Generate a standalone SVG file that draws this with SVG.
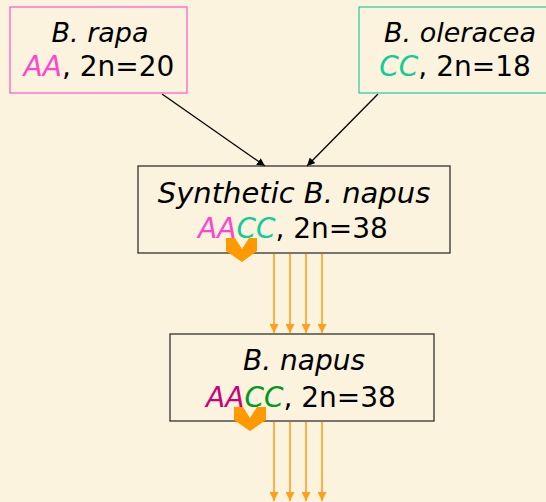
<svg xmlns="http://www.w3.org/2000/svg" width="546" height="502" viewBox="0 0 546 502">
  <defs>
    <style>
      .box { fill: none; stroke-width: 1.2; }
      .name { font-family: "DejaVu Sans", "Noto Sans", sans-serif; font-style: italic; font-size: 27px; fill: #000; text-anchor: middle; }
      .geno { font-family: "DejaVu Sans", "Noto Sans", sans-serif; font-size: 28px; fill: #000; text-anchor: middle; }
      .link { stroke: #000; stroke-width: 1.3; fill: none; }
      .flow { stroke: #FF9F1A; stroke-width: 1.6; fill: none; }
      .chev { fill: #FF9900; }
    </style>
    <marker id="blackHead" viewBox="0 0 10 10" refX="10" refY="5" markerWidth="8" markerHeight="8" markerUnits="userSpaceOnUse" orient="auto">
      <path d="M0,0 L10,5 L0,10 z" fill="#000"/>
    </marker>
    <marker id="orangeHead" viewBox="0 0 10 10" refX="10" refY="5" markerWidth="9" markerHeight="9" markerUnits="userSpaceOnUse" orient="auto">
      <path d="M0,0 L10,5 L0,10 z" fill="#FF9F1A"/>
    </marker>
    <filter id="parchment" x="0" y="0" width="100%" height="100%">
      <feTurbulence type="fractalNoise" baseFrequency="0.035" numOctaves="3" seed="7" result="n"/>
      <feColorMatrix in="n" type="matrix" values="0 0 0 0 0.95  0 0 0 0 0.89  0 0 0 0 0.74  0 0 0 0.3 0" result="tint"/>
      <feComposite in="tint" in2="SourceGraphic" operator="over"/>
    </filter>
  </defs>

  <!-- paper background -->
  <rect x="0" y="0" width="546" height="502" fill="#FCF3DE"/>
  <rect x="0" y="0" width="546" height="502" fill="#FCF3DE" filter="url(#parchment)" opacity="0.5"/>

  <!-- connectors -->
  <g id="connectors">
    <line class="link" x1="162" y1="94" x2="265" y2="166" marker-end="url(#blackHead)"/>
    <line class="link" x1="378" y1="94" x2="307" y2="166" marker-end="url(#blackHead)"/>

    <line class="flow" x1="274" y1="254" x2="274" y2="333" marker-end="url(#orangeHead)"/>
    <line class="flow" x1="290" y1="254" x2="290" y2="333" marker-end="url(#orangeHead)"/>
    <line class="flow" x1="306" y1="254" x2="306" y2="333" marker-end="url(#orangeHead)"/>
    <line class="flow" x1="322" y1="254" x2="322" y2="333" marker-end="url(#orangeHead)"/>

    <line class="flow" x1="274" y1="422" x2="274" y2="501" marker-end="url(#orangeHead)"/>
    <line class="flow" x1="290" y1="422" x2="290" y2="501" marker-end="url(#orangeHead)"/>
    <line class="flow" x1="306" y1="422" x2="306" y2="501" marker-end="url(#orangeHead)"/>
    <line class="flow" x1="322" y1="422" x2="322" y2="501" marker-end="url(#orangeHead)"/>
  </g>

  <!-- B. rapa -->
  <g id="b-rapa">
    <rect class="box" x="10" y="7" width="177" height="86" stroke="#FF55CC"/>
    <text class="name" x="100" y="42">B. rapa</text>
    <text class="geno" x="99" y="76"><tspan fill="#FF44CC" font-style="italic">AA</tspan>, 2n=20</text>
  </g>

  <!-- B. oleracea -->
  <g id="b-oleracea">
    <rect class="box" x="359" y="7" width="200" height="86" stroke="#22CC99"/>
    <text class="name" x="460" y="42">B. oleracea</text>
    <text class="geno" x="455" y="76"><tspan fill="#11CC99" font-style="italic">CC</tspan>, 2n=18</text>
  </g>

  <!-- Synthetic B. napus -->
  <g id="synthetic-b-napus">
    <rect class="box" x="138" y="166" width="312" height="87" stroke="#222"/>
    <text class="name" x="294" y="203" style="font-size:29px">Synthetic B. napus</text>
    <text class="geno" x="293" y="238"><tspan fill="#FF44CC" font-style="italic">AA</tspan><tspan fill="#11CC99" font-style="italic">CC</tspan>, 2n=38</text>
    <polygon class="chev" points="226,238 235,238 242,249 249,238 257,238 257,251 242,262 226,251"/>
  </g>

  <!-- B. napus -->
  <g id="b-napus">
    <rect class="box" x="170" y="334" width="264" height="87" stroke="#222"/>
    <text class="name" x="304" y="370" style="font-size:28px">B. napus</text>
    <text class="geno" x="301" y="407"><tspan fill="#CC0077" font-style="italic">AA</tspan><tspan fill="#009922" font-style="italic">CC</tspan>, 2n=38</text>
    <polygon class="chev" points="234,407 243,407 250,418 257,407 266,407 266,420 250,431 234,420"/>
  </g>
</svg>
